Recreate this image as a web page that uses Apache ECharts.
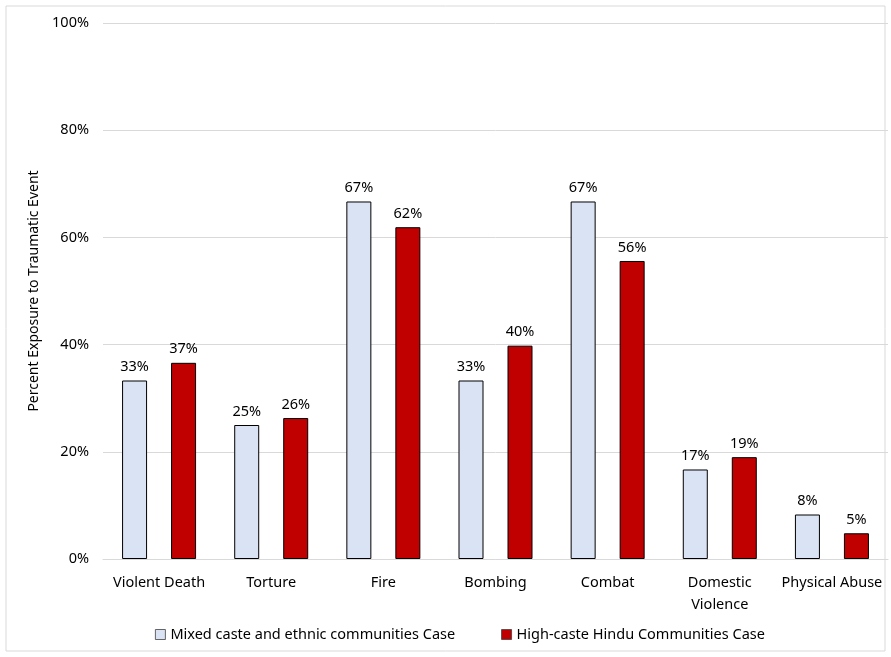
<!DOCTYPE html>
<html>
<head>
<meta charset="utf-8">
<script src="https://cdn.jsdelivr.net/npm/echarts@6/dist/echarts.min.js"></script>
<style>
  html, body { margin: 0; padding: 0; background: #fff; }
  #main { width: 891px; height: 657px; }
</style>
</head>
<body>
<div id="main"></div>
<script>
// 类别
var categories = ['Violent Death', 'Torture', 'Fire', 'Bombing', 'Combat', 'Domestic\nViolence', 'Physical Abuse'];
// 数据 (%)
var mixedCase = [33.3, 25.0, 66.7, 33.3, 66.7, 16.7, 8.3];
var hinduCase = [36.6, 26.3, 61.9, 39.8, 55.6, 19.0, 4.8];
var seriesNames = ['Mixed caste and ethnic communities Case', 'High-caste Hindu Communities Case'];
var yTicks = [0, 20, 40, 60, 80, 100];

var font = 'Noto Sans';
var chart = echarts.init(document.getElementById('main'));

function labelCfg() {
	return {
		show : true,
		position : 'top',
		distance : 6,
		fontFamily : font,
		fontSize : 14.5,
		color : '#000',
		formatter : function(p) { return Math.round(p.value) + '%'; }
	};
}

option = {
	animation : false,
	graphic : [ {
		type : 'rect',
		shape : { x : 6, y : 6, width : 879, height : 645 },
		style : { fill : 'none', stroke : '#d9d9d9', lineWidth : 1 }
	} ],
	grid : { left : 103, right : 3, top : 23, bottom : 98, containLabel : false },
	legend : {
		bottom : 10,
		left : 150,
		itemWidth : 10,
		itemHeight : 10,
		itemGap : 46,
		icon : 'rect',
		itemStyle : { borderWidth : 0.8, borderColor : '#404040' },
		textStyle : { fontFamily : font, fontSize : 14.5, color : '#000' },
		data : seriesNames
	},
	xAxis : [ {
		type : 'category',
		data : categories,
		axisLine : { show : true, lineStyle : { color : '#d9d9d9' } },
		axisTick : { show : false },
		axisLabel : { fontFamily : font, fontSize : 14.5, color : '#000', margin : 13, lineHeight : 22, interval : 0 }
	} ],
	yAxis : [ {
		type : 'value',
		min : yTicks[0],
		max : yTicks[yTicks.length - 1],
		interval : 20,
		name : 'Percent Exposure to Traumatic Event',
		nameLocation : 'middle',
		nameGap : 62,
		nameTextStyle : { fontFamily : font, fontSize : 14, color : '#000' },
		axisLine : { show : false },
		axisTick : { show : false },
		splitLine : { lineStyle : { color : '#d9d9d9' } },
		axisLabel : { fontFamily : font, fontSize : 14.5, color : '#000', margin : 14, formatter : '{value}%' }
	} ],
	series : [ {
		name : seriesNames[0],
		type : 'bar',
		barWidth : 25,
		barGap : '96%',
		itemStyle : { color : '#dae3f3', borderColor : '#000', borderWidth : 1 },
		label : labelCfg(),
		data : mixedCase
	}, {
		name : seriesNames[1],
		type : 'bar',
		barWidth : 25,
		itemStyle : { color : '#c00000', borderColor : '#000', borderWidth : 1 },
		label : labelCfg(),
		data : hinduCase
	} ]
};
chart.setOption(option);
</script>
</body>
</html>
